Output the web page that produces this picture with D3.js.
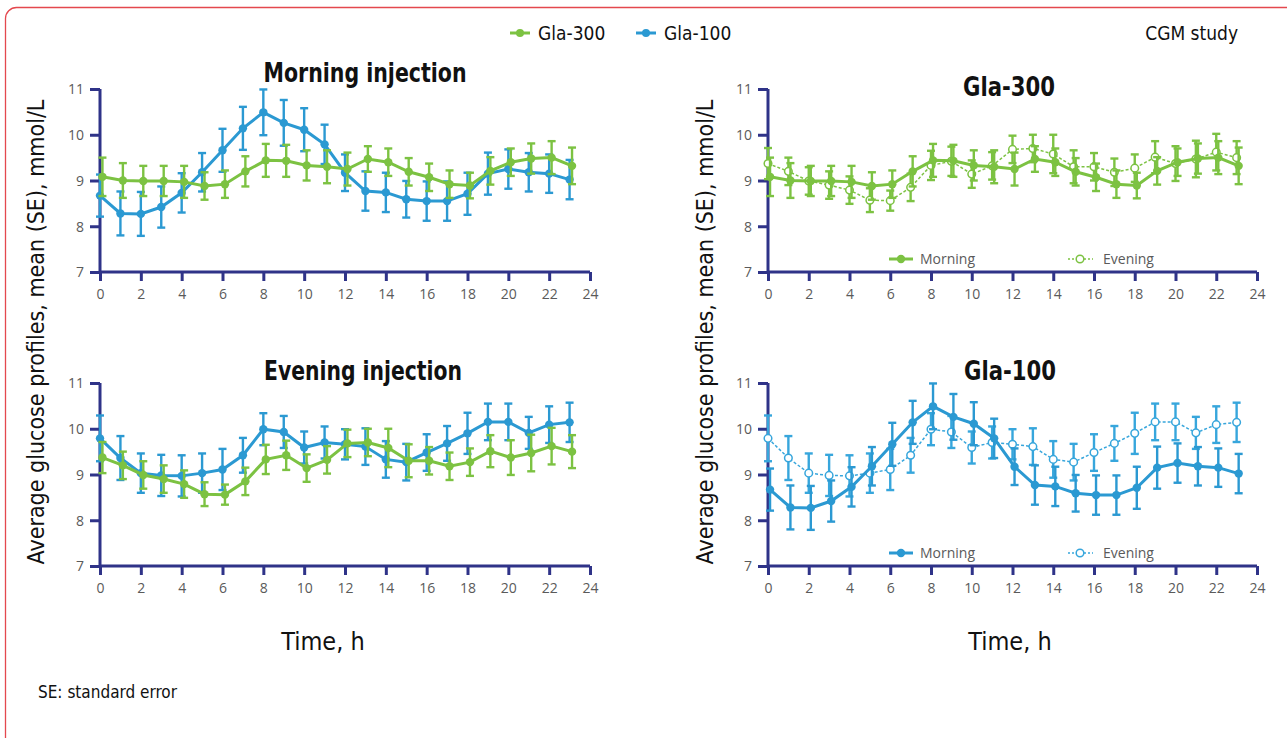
<!DOCTYPE html>
<html>
<head>
<meta charset="UTF-8">
<title>CGM study glucose profiles</title>
<script src="https://cdn.jsdelivr.net/npm/d3@7"></script>
<style>
    body, html { margin: 0; padding: 0; background: #fff; }
    .cond { font-family: "Liberation Sans Narrow", "DejaVu Sans Condensed", "Roboto", sans-serif; font-stretch: condensed; }
    .tick-label { font-family: "Open Sans", "Noto Sans", sans-serif; fill: #5a5a5a; font-size: 14px; }
</style>
</head>
<body>
<svg id="chart" width="1287" height="738"></svg>
<script>
    // hourly points and axis ticks
    var hours = [0, 1, 2, 3, 4, 5, 6, 7, 8, 9, 10, 11, 12, 13, 14, 15, 16, 17, 18, 19, 20, 21, 22, 23];
    var xTicks = [0, 2, 4, 6, 8, 10, 12, 14, 16, 18, 20, 22, 24];
    var yTicks = [7, 8, 9, 10, 11];

    // mean glucose, mmol/L
    var gla300Morning = [9.08, 9.0, 8.99, 8.99, 8.97, 8.88, 8.92, 9.2, 9.44, 9.43, 9.33, 9.3, 9.25, 9.47, 9.4, 9.19, 9.07, 8.92, 8.89, 9.21, 9.4, 9.48, 9.5, 9.32];
    var gla300MorningSE = [0.42, 0.38, 0.33, 0.33, 0.35, 0.3, 0.3, 0.33, 0.36, 0.35, 0.33, 0.36, 0.36, 0.28, 0.3, 0.3, 0.3, 0.3, 0.28, 0.3, 0.3, 0.33, 0.36, 0.4];
    var gla300Evening = [9.37, 9.2, 8.99, 8.9, 8.79, 8.57, 8.56, 8.85, 9.33, 9.42, 9.14, 9.32, 9.68, 9.7, 9.58, 9.3, 9.3, 9.18, 9.27, 9.51, 9.37, 9.47, 9.62, 9.5];
    var gla300EveningSE = [0.34, 0.3, 0.3, 0.3, 0.3, 0.26, 0.22, 0.3, 0.32, 0.32, 0.3, 0.3, 0.3, 0.3, 0.42, 0.36, 0.3, 0.3, 0.3, 0.35, 0.38, 0.4, 0.4, 0.36];
    var gla100Morning = [8.67, 8.28, 8.27, 8.42, 8.73, 9.18, 9.66, 10.14, 10.49, 10.26, 10.11, 9.79, 9.17, 8.77, 8.74, 8.59, 8.55, 8.55, 8.71, 9.15, 9.25, 9.18, 9.15, 9.02];
    var gla100MorningSE = [0.46, 0.48, 0.48, 0.45, 0.43, 0.42, 0.47, 0.47, 0.5, 0.5, 0.47, 0.43, 0.4, 0.43, 0.43, 0.4, 0.43, 0.43, 0.46, 0.46, 0.43, 0.42, 0.42, 0.43];
    var gla100Evening = [9.79, 9.36, 9.03, 8.98, 8.97, 9.03, 9.11, 9.42, 9.99, 9.93, 9.59, 9.7, 9.66, 9.61, 9.33, 9.27, 9.48, 9.68, 9.9, 10.15, 10.15, 9.91, 10.09, 10.14];
    var gla100EveningSE = [0.5, 0.48, 0.43, 0.45, 0.45, 0.43, 0.45, 0.38, 0.35, 0.35, 0.35, 0.35, 0.33, 0.4, 0.4, 0.4, 0.4, 0.38, 0.45, 0.4, 0.4, 0.35, 0.4, 0.43];

    var green = "#7cc242";
    var blue = "#2b99d2";
    var blueLight = "#37a6dc";
    var axisColor = "#2f3388";

    var svg = d3.select("#chart");

    // frame
    svg.append("rect")
        .attr("x", 5.5).attr("y", 7.5)
        .attr("width", 1300).attr("height", 760)
        .attr("rx", 11)
        .attr("fill", "none")
        .attr("stroke", "#e4484e")
        .attr("stroke-width", 1.3);

    function drawPanel(opt) {
        var x = d3.scaleLinear().domain([0, 24]).range([opt.left, opt.right]);
        var y = d3.scaleLinear().domain([7, 11]).range([opt.bottom, opt.top]);
        var g = svg.append("g");

        // axes
        var yAxis = d3.axisLeft(y).tickValues(yTicks).tickSize(10).tickFormat(d3.format("d"));
        var xAxis = d3.axisBottom(x).tickValues(xTicks).tickSize(9).tickFormat(d3.format("d"));

        var ya = g.append("g").attr("transform", "translate(" + opt.left + ",0)").call(yAxis);
        var xa = g.append("g").attr("transform", "translate(0," + opt.bottom + ")").call(xAxis);
        [ya, xa].forEach(function (a) {
            a.select(".domain").attr("stroke", axisColor).attr("stroke-width", 3)
                .attr("d", a === ya ? "M0," + opt.top + "V" + opt.bottom : "M" + opt.left + ",0H" + opt.right);
            a.selectAll(".tick line").attr("stroke", axisColor).attr("stroke-width", 3);
            a.selectAll(".tick text").attr("class", "tick-label").attr("fill", null);
        });
        ya.selectAll(".tick text").attr("x", -16).attr("dy", "0.35em");
        xa.selectAll(".tick text").attr("y", 17);

        // series
        opt.series.forEach(function (s) {
            var pts = hours.map(function (h, i) { return { h: h + s.dodge, v: s.values[i], se: s.se[i] }; });
            var bars = g.append("g");
            pts.forEach(function (d) {
                var xx = x(d.h), y0 = y(d.v - d.se), y1 = y(d.v + d.se);
                bars.append("line").attr("x1", xx).attr("x2", xx).attr("y1", y0).attr("y2", y1)
                    .attr("stroke", s.color).attr("stroke-width", 2.4);
                [y0, y1].forEach(function (yy) {
                    bars.append("line").attr("x1", xx - 4).attr("x2", xx + 4).attr("y1", yy).attr("y2", yy)
                        .attr("stroke", s.color).attr("stroke-width", 2.4);
                });
            });
            var line = d3.line().x(function (d) { return x(d.h); }).y(function (d) { return y(d.v); });
            g.append("path").datum(pts)
                .attr("d", line)
                .attr("fill", "none")
                .attr("stroke", s.color)
                .attr("stroke-width", s.open ? 1.5 : 3)
                .attr("stroke-dasharray", s.open ? "3,2" : null);
            g.selectAll(null).data(pts).enter().append("circle")
                .attr("cx", function (d) { return x(d.h); })
                .attr("cy", function (d) { return y(d.v); })
                .attr("r", s.open ? 3.8 : 4.2)
                .attr("fill", s.open ? "#fff" : s.color)
                .attr("stroke", s.color)
                .attr("stroke-width", s.open ? 1.5 : 0);
        });

        // title
        svg.append("text").attr("class", "cond")
            .attr("x", opt.titleX).attr("y", opt.titleY)
            .attr("text-anchor", "middle")
            .attr("font-size", 26).attr("font-weight", "bold").attr("fill", "#111")
            .attr("textLength", opt.titleW).attr("lengthAdjust", "spacingAndGlyphs")
            .text(opt.title);

        // inner legend
        if (opt.legend) {
            var ly = opt.bottom - 13;
            var c = opt.series[1].color, ce = opt.series[0].color;
            svg.append("line").attr("x1", 889).attr("x2", 913).attr("y1", ly).attr("y2", ly)
                .attr("stroke", c).attr("stroke-width", 3);
            svg.append("circle").attr("cx", 901).attr("cy", ly).attr("r", 4.2).attr("fill", c);
            svg.append("text").attr("class", "tick-label").attr("x", 920).attr("y", ly + 5)
                .attr("font-size", 15).text("Morning");
            svg.append("line").attr("x1", 1068).attr("x2", 1093).attr("y1", ly).attr("y2", ly)
                .attr("stroke", ce).attr("stroke-width", 1.5).attr("stroke-dasharray", "2,2");
            svg.append("circle").attr("cx", 1080).attr("cy", ly).attr("r", 3.8)
                .attr("fill", "#fff").attr("stroke", ce).attr("stroke-width", 1.5);
            svg.append("text").attr("class", "tick-label").attr("x", 1103).attr("y", ly + 5)
                .attr("font-size", 15).text("Evening");
        }
    }

    drawPanel({
        left: 100, right: 590, top: 89, bottom: 272, title: "Morning injection", titleX: 365, titleY: 82, titleW: 203,
        series: [
            { values: gla100Morning, se: gla100MorningSE, color: blue, dodge: 0 },
            { values: gla300Morning, se: gla300MorningSE, color: green, dodge: 0.12 }
        ]
    });
    drawPanel({
        left: 100, right: 590, top: 383, bottom: 566, title: "Evening injection", titleX: 363, titleY: 380, titleW: 198,
        series: [
            { values: gla100Evening, se: gla100EveningSE, color: blue, dodge: 0 },
            { values: gla300Evening, se: gla300EveningSE, color: green, dodge: 0.12 }
        ]
    });
    drawPanel({
        left: 768, right: 1257, top: 89, bottom: 272, title: "Gla-300", titleX: 1009, titleY: 96, titleW: 92, legend: true,
        series: [
            { values: gla300Evening, se: gla300EveningSE, color: green, open: true, dodge: 0 },
            { values: gla300Morning, se: gla300MorningSE, color: green, dodge: 0.1 }
        ]
    });
    drawPanel({
        left: 768, right: 1257, top: 383, bottom: 566, title: "Gla-100", titleX: 1010, titleY: 380, titleW: 92, legend: true,
        series: [
            { values: gla100Evening, se: gla100EveningSE, color: blueLight, open: true, dodge: 0 },
            { values: gla100Morning, se: gla100MorningSE, color: blue, dodge: 0.1 }
        ]
    });

    // y axis titles
    [36, 705].forEach(function (cx) {
        svg.append("text").attr("class", "cond")
            .attr("transform", "translate(" + cx + ",332) rotate(-90)")
            .attr("text-anchor", "middle").attr("dy", "0.35em")
            .attr("font-size", 23).attr("fill", "#111")
            .text("Average glucose profiles, mean (SE), mmol/L");
    });

    // x axis titles
    [[323, 650], [1010, 650]].forEach(function (p) {
        svg.append("text").attr("class", "cond")
            .attr("x", p[0]).attr("y", p[1]).attr("text-anchor", "middle")
            .attr("font-size", 25).attr("fill", "#111")
            .text("Time, h");
    });

    // top legend
    [[520, green, "Gla-300"], [646, blue, "Gla-100"]].forEach(function (l) {
        svg.append("line").attr("x1", l[0] - 10).attr("x2", l[0] + 10).attr("y1", 33).attr("y2", 33)
            .attr("stroke", l[1]).attr("stroke-width", 3);
        svg.append("circle").attr("cx", l[0]).attr("cy", 33).attr("r", 4).attr("fill", l[1]);
        svg.append("text").attr("class", "cond").attr("x", l[0] + 18).attr("y", 40)
            .attr("font-size", 19).attr("fill", "#111").text(l[2]);
    });

    svg.append("text").attr("class", "cond").attr("x", 1238).attr("y", 40)
        .attr("text-anchor", "end").attr("font-size", 19).attr("fill", "#111").text("CGM study");

    svg.append("text").attr("class", "cond").attr("x", 38).attr("y", 698)
        .attr("font-size", 17).attr("fill", "#111").text("SE: standard error");
</script>
</body>
</html>
